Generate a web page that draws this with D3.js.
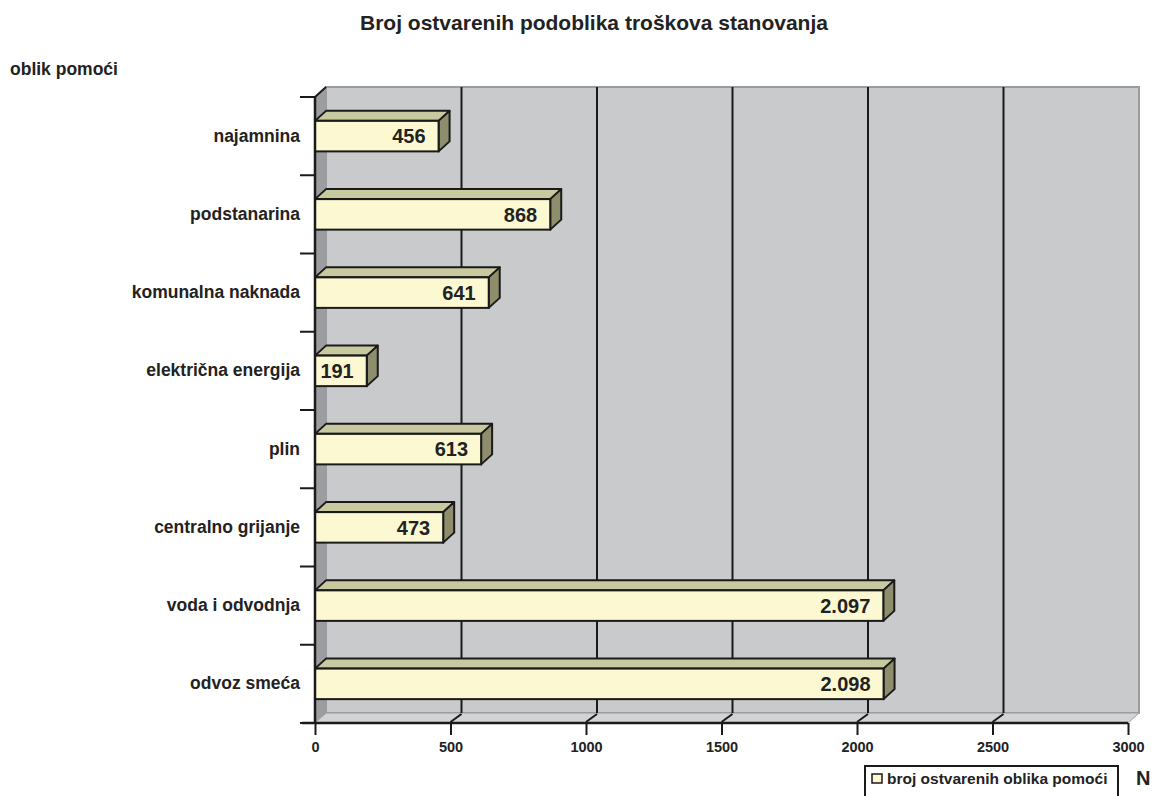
<!DOCTYPE html>
<html>
<head>
<meta charset="utf-8">
<script src="https://cdn.jsdelivr.net/npm/d3@7"></script>
<style>
  body { margin: 0; background: #fff; }
  svg { font-family: "Liberation Sans", Arial, sans-serif; font-weight: bold; }
</style>
</head>
<body>
<div id="chart"></div>
<script>
// data
const categories = ["najamnina", "podstanarina", "komunalna naknada", "električna energija",
                    "plin", "centralno grijanje", "voda i odvodnja", "odvoz smeća"];
const values = [456, 868, 641, 191, 613, 473, 2097, 2098];
const xTicks = [0, 500, 1000, 1500, 2000, 2500, 3000];
const seriesName = "broj ostvarenih oblika pomoći";

const width = 1157, height = 796;
const dx = 11, dy = -10; // 3d depth offset

const svg = d3.select("#chart").append("svg")
    .attr("width", width)
    .attr("height", height);

const x = d3.scaleLinear().domain([0, 3000]).range([315, 1128]);
const y = d3.scaleBand().domain(categories).range([97, 723]);

const x0 = x(0), x1 = x(3000), yTop = y.range()[0], yBot = y.range()[1];

// back wall
svg.append("rect")
    .attr("x", x0 + dx).attr("y", yTop + dy)
    .attr("width", x1 - x0).attr("height", yBot - yTop)
    .attr("fill", "#c9cacc")
    .attr("stroke", "#9a9b9e").attr("stroke-width", 2);

// left wall
svg.append("polygon")
    .attr("points", [[x0, yTop], [x0 + dx, yTop + dy], [x0 + dx, yBot + dy], [x0, yBot]].join(" "))
    .attr("fill", "#9c9da0");

// floor
svg.append("polygon")
    .attr("points", [[x0, yBot], [x0 + dx, yBot + dy], [x1 + dx, yBot + dy], [x1, yBot]].join(" "))
    .attr("fill", "#d2d3d5")
    .attr("stroke", "#9a9b9e").attr("stroke-width", 1);

// gridlines on back wall
svg.selectAll(".grid")
    .data(xTicks.slice(1, -1))
    .enter().append("line")
    .attr("x1", d => x(d) + dx).attr("x2", d => x(d) + dx)
    .attr("y1", yTop + dy).attr("y2", yBot + dy)
    .attr("stroke", "#1a1a1a").attr("stroke-width", 2);

// diagonal ticks on floor
svg.selectAll(".floortick")
    .data(xTicks.slice(1, -1))
    .enter().append("line")
    .attr("x1", d => x(d)).attr("x2", d => x(d) + dx)
    .attr("y1", yBot - 1).attr("y2", yBot + dy + 1)
    .attr("stroke", "#1a1a1a").attr("stroke-width", 2);

// top diagonal of left wall
svg.append("line")
    .attr("x1", x0).attr("y1", yTop).attr("x2", x0 + dx).attr("y2", yTop + dy)
    .attr("stroke", "#1a1a1a").attr("stroke-width", 2);

// bars
const bh = y.bandwidth() * 0.39;
const bars = svg.selectAll(".bar")
    .data(categories.map((c, i) => ({cat: c, value: values[i]})))
    .enter().append("g")
    .attr("class", "bar");

bars.each(function(d) {
    const g = d3.select(this);
    const yc = y(d.cat) + y.bandwidth() / 2;
    const t = yc - bh / 2, b = yc + bh / 2;
    const l = x(0), r = x(d.value);
    // top face
    g.append("polygon")
        .attr("points", [[l, t], [l + dx, t + dy], [r + dx, t + dy], [r, t]].join(" "))
        .attr("fill", "#c9c9a0").attr("stroke", "#1a1a1a").attr("stroke-width", 2)
        .attr("stroke-linejoin", "round");
    // side face
    g.append("polygon")
        .attr("points", [[r, t], [r + dx, t + dy], [r + dx, b + dy], [r, b]].join(" "))
        .attr("fill", "#8e8e6c").attr("stroke", "#1a1a1a").attr("stroke-width", 2)
        .attr("stroke-linejoin", "round");
    // front face
    g.append("rect")
        .attr("x", l).attr("y", t)
        .attr("width", r - l).attr("height", b - t)
        .attr("fill", "#fcf9d2").attr("stroke", "#1a1a1a").attr("stroke-width", 2);
    // value label
    g.append("text")
        .attr("x", r - 13).attr("y", yc)
        .attr("dy", "0.36em")
        .attr("text-anchor", "end")
        .attr("font-size", 20)
        .attr("fill", "#222")
        .text(d3.format(",")(d.value).replace(/,/g, "."));
});

// y axis labels
const yAxis = svg.append("g")
    .attr("transform", `translate(${x0},0)`)
    .call(d3.axisLeft(y).tickSize(0).tickPadding(15));
yAxis.select(".domain").remove();
yAxis.selectAll("text")
    .attr("font-size", 17.5).attr("font-weight", "bold")
    .attr("font-family", "Liberation Sans, Arial, sans-serif")
    .attr("fill", "#222");

// y axis boundary ticks
const bounds = categories.map(c => y(c)).concat([yBot]);
svg.selectAll(".ytick")
    .data(bounds)
    .enter().append("line")
    .attr("x1", x0 - 15).attr("x2", x0)
    .attr("y1", d => d).attr("y2", d => d)
    .attr("stroke", "#1a1a1a").attr("stroke-width", 2);

// y axis line
svg.append("line")
    .attr("x1", x0).attr("x2", x0)
    .attr("y1", yTop).attr("y2", yBot)
    .attr("stroke", "#1a1a1a").attr("stroke-width", 2.5);

// x axis
const xAxis = svg.append("g")
    .attr("transform", `translate(0,${yBot})`)
    .call(d3.axisBottom(x).tickValues(xTicks).tickSize(12).tickPadding(7).tickFormat(d3.format("d")));
xAxis.select(".domain")
    .attr("d", `M${x0 - 13},0H${x1}`)
    .attr("stroke", "#1a1a1a").attr("stroke-width", 2.5);
xAxis.selectAll(".tick line").attr("stroke", "#1a1a1a").attr("stroke-width", 2);
xAxis.selectAll("text")
    .attr("font-size", 14.5).attr("font-weight", "bold")
    .attr("font-family", "Liberation Sans, Arial, sans-serif")
    .attr("fill", "#222");

// title
svg.append("text")
    .attr("x", 594).attr("y", 30)
    .attr("text-anchor", "middle")
    .attr("font-size", 21)
    .attr("fill", "#222")
    .text("Broj ostvarenih podoblika troškova stanovanja");

// y axis title
svg.append("text")
    .attr("x", 10).attr("y", 75)
    .attr("font-size", 17.5)
    .attr("fill", "#222")
    .text("oblik pomoći");

// legend
const legend = svg.append("g");
legend.append("rect")
    .attr("x", 865).attr("y", 766)
    .attr("width", 253).attr("height", 40)
    .attr("fill", "#fff").attr("stroke", "#1a1a1a").attr("stroke-width", 2);
legend.append("rect")
    .attr("x", 872).attr("y", 774)
    .attr("width", 10).attr("height", 9)
    .attr("fill", "#fcf9d2").attr("stroke", "#1a1a1a").attr("stroke-width", 1.5);
legend.append("text")
    .attr("x", 887).attr("y", 784)
    .attr("font-size", 15.5)
    .attr("fill", "#222")
    .text(seriesName);

// axis unit
svg.append("text")
    .attr("x", 1136).attr("y", 785)
    .attr("font-size", 20)
    .attr("fill", "#222")
    .text("N");
</script>
</body>
</html>
